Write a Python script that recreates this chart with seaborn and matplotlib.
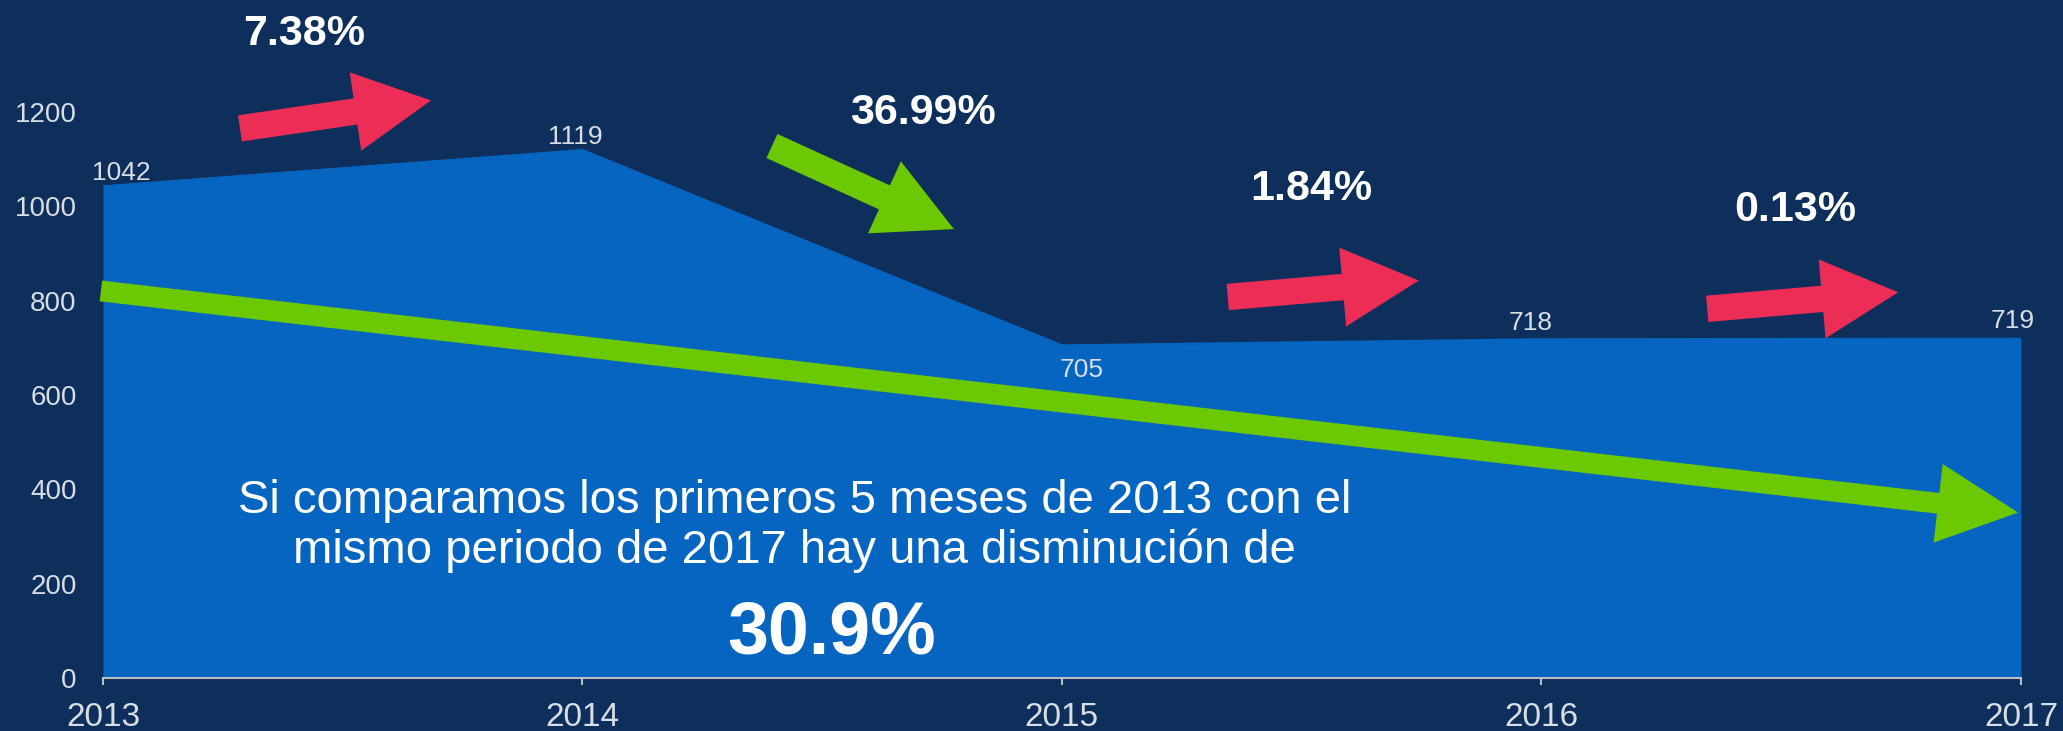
import matplotlib
matplotlib.use("Agg")
import matplotlib.pyplot as plt
from matplotlib import font_manager
from matplotlib.patches import FancyArrowPatch
import seaborn as sns
import pandas as pd

# data
roky = [2013, 2014, 2015, 2016, 2017]
hodnoty = [1042, 1119, 705, 718, 719]
y_ticky = [0, 200, 400, 600, 800, 1000, 1200]
zmeny = ["7.38%", "36.99%", "1.84%", "0.13%"]
barvy_zmen = ["red", "green", "red", "red"]
celkova_zmena = "30.9%"
popis = "Si comparamos los primeros 5 meses de 2013 con el\nmismo periodo de 2017 hay una disminución de"

# layout (pozice šipek a popisků, v souřadnicích grafu)
sipky = [  # (x0, y0, x1, y1)
    (2013.28, 1164, 2013.69, 1225),
    (2014.39, 1130, 2014.78, 949),
    (2015.34, 807, 2015.75, 843),
    (2016.34, 782, 2016.75, 818),
]
pozice_zmen = [(2013.42, 1365), (2014.71, 1198), (2015.52, 1036), (2016.53, 992)]
posuny_popisku = [(13, 1, "bottom"), (-5, 1, "bottom"), (14, -9, "top"), (-8, 3, "bottom"), (-6, 4, "bottom")]
trend = (2012.99, 821, 2017.0, 350)

POZADI = "#0E2F5B"
MODRA = "#0565C1"
ZELENA = "#6CC800"
CERVENA = "#EC2D55"
SEDA = "#D9DDE4"

sns.set_theme(style="dark", rc={"axes.facecolor": POZADI, "figure.facecolor": POZADI})
plt.rcParams["font.family"] = ["Liberation Sans", "DejaVu Sans"]

dostupne = {f.name for f in font_manager.fontManager.ttflist}
uzky = "Liberation Sans Narrow" if "Liberation Sans Narrow" in dostupne else "Liberation Sans"
vel_zmen = 36 if uzky == "Liberation Sans Narrow" else 31

df = pd.DataFrame({"rok": roky, "hodnota": hodnoty})

fig = plt.figure(figsize=(20.63, 7.31), dpi=100)
ax = fig.add_axes([0.0499, 0.0725, 0.9297, 0.9275])

ax.fill_between(df["rok"], 0, df["hodnota"], color=MODRA, linewidth=0, zorder=1)
sns.lineplot(data=df, x="rok", y="hodnota", color=MODRA, linewidth=1.5, ax=ax, zorder=2)

ax.set_xlim(2013, 2017)
ax.set_ylim(0, 1437)
ax.set_xticks(roky)
ax.set_xticklabels([str(r) for r in roky])
ax.set_yticks(y_ticky)
ax.set_xlabel("")
ax.set_ylabel("")
ax.grid(False)

for s in ["top", "right", "left"]:
    ax.spines[s].set_visible(False)
ax.spines["bottom"].set_color("#B9BEC7")
ax.spines["bottom"].set_linewidth(1.5)
ax.spines["bottom"].set_zorder(5)
ax.tick_params(axis="x", colors="#B9BEC7", length=5, width=1.5, direction="out",
               pad=12, labelsize=24, labelcolor=SEDA, bottom=True)
ax.tick_params(axis="y", length=0, pad=19, labelsize=20, labelcolor=SEDA)

# popisky hodnot
for r, h, (dx, dy, va) in zip(roky, hodnoty, posuny_popisku):
    ax.annotate(str(h), (r, h), xytext=(dx, dy), textcoords="offset points",
                ha="center", va=va, fontsize=19, color=SEDA, zorder=6, annotation_clip=False)

def sipka(x0, y0, x1, y1, barva, tail, head_w, head_l):
    p = FancyArrowPatch((x0, y0), (x1, y1), mutation_scale=1,
                        arrowstyle=f"simple,head_length={head_l},head_width={head_w},tail_width={tail}",
                        color=barva, linewidth=0, zorder=4, clip_on=False)
    ax.add_patch(p)

# trend
sipka(*trend, ZELENA, 15, 57, 58)

for (x0, y0, x1, y1), b in zip(sipky, barvy_zmen):
    sipka(x0, y0, x1, y1, CERVENA if b == "red" else ZELENA, 19, 57, 55)

for txt, (x, y) in zip(zmeny, pozice_zmen):
    ax.text(x, y, txt, ha="center", va="center", fontsize=vel_zmen, fontweight="bold",
            color="white", family=[uzky, "DejaVu Sans"], zorder=6)

ax.text(2014.443, 322, popis, ha="center", va="center", fontsize=34, color="white",
        linespacing=1.16, zorder=6)
ax.text(2014.519, 94, celkova_zmena, ha="center", va="center", fontsize=53,
        fontweight="bold", color="white", zorder=6)

fig.savefig("out.png", dpi=100, facecolor=POZADI)
plt.close(fig)
